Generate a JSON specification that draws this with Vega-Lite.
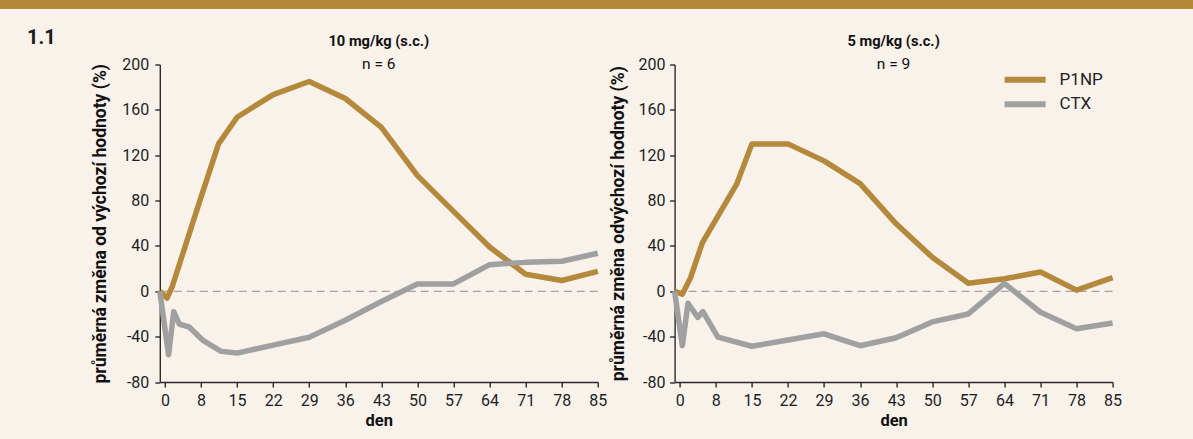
{
  "$schema": "https://vega.github.io/schema/vega-lite/v6.json",
  "background": "#f8f2eb",
  "padding": {"left": 0, "top": 0, "right": 0, "bottom": 12},
  "config": {
    "font": "Roboto",
    "view": {"stroke": null},
    "axis": {
      "grid": false,
      "domainColor": "#2b2b2b", "domainWidth": 1.4,
      "tickColor": "#2b2b2b", "tickWidth": 1.4, "tickSize": 5,
      "labelFont": "Roboto", "labelFontSize": 16, "labelColor": "#1e1e1e",
      "titleFont": "Roboto", "titleFontWeight": "bold", "titleColor": "#111111"
    }
  },
  "datasets": {
    "zero": [{"zmena": 0}],
    "dose10": [
      {"marker": "P1NP", "den": 0, "zmena": 0},
      {"marker": "P1NP", "den": 1.4, "zmena": -6},
      {"marker": "P1NP", "den": 2.4, "zmena": 4},
      {"marker": "P1NP", "den": 8, "zmena": 83},
      {"marker": "P1NP", "den": 11.4, "zmena": 130},
      {"marker": "P1NP", "den": 15, "zmena": 153.5},
      {"marker": "P1NP", "den": 22, "zmena": 173.5},
      {"marker": "P1NP", "den": 29, "zmena": 185},
      {"marker": "P1NP", "den": 36, "zmena": 170},
      {"marker": "P1NP", "den": 43, "zmena": 144.5},
      {"marker": "P1NP", "den": 50, "zmena": 102},
      {"marker": "P1NP", "den": 57, "zmena": 70.5},
      {"marker": "P1NP", "den": 64, "zmena": 39},
      {"marker": "P1NP", "den": 71, "zmena": 15},
      {"marker": "P1NP", "den": 78, "zmena": 9.5},
      {"marker": "P1NP", "den": 85, "zmena": 17.5},
      {"marker": "CTX", "den": 0, "zmena": 0},
      {"marker": "CTX", "den": 1.7, "zmena": -56},
      {"marker": "CTX", "den": 2.7, "zmena": -18},
      {"marker": "CTX", "den": 3.8, "zmena": -29},
      {"marker": "CTX", "den": 5.7, "zmena": -31.5},
      {"marker": "CTX", "den": 8.3, "zmena": -43},
      {"marker": "CTX", "den": 11.9, "zmena": -53},
      {"marker": "CTX", "den": 15, "zmena": -54.5},
      {"marker": "CTX", "den": 22, "zmena": -47.5},
      {"marker": "CTX", "den": 29, "zmena": -40.5},
      {"marker": "CTX", "den": 36, "zmena": -25.5},
      {"marker": "CTX", "den": 43, "zmena": -9},
      {"marker": "CTX", "den": 50, "zmena": 6.5},
      {"marker": "CTX", "den": 57, "zmena": 6.5},
      {"marker": "CTX", "den": 64, "zmena": 23.5},
      {"marker": "CTX", "den": 71, "zmena": 25.5},
      {"marker": "CTX", "den": 78, "zmena": 26.5},
      {"marker": "CTX", "den": 85, "zmena": 33.5}
    ],
    "dose5": [
      {"marker": "P1NP", "den": 0, "zmena": 0},
      {"marker": "P1NP", "den": 1.5, "zmena": -2.5},
      {"marker": "P1NP", "den": 3.1, "zmena": 12},
      {"marker": "P1NP", "den": 5.4, "zmena": 43},
      {"marker": "P1NP", "den": 12.1, "zmena": 95},
      {"marker": "P1NP", "den": 15, "zmena": 130},
      {"marker": "P1NP", "den": 22, "zmena": 130},
      {"marker": "P1NP", "den": 29, "zmena": 115},
      {"marker": "P1NP", "den": 36, "zmena": 95},
      {"marker": "P1NP", "den": 43, "zmena": 59.5},
      {"marker": "P1NP", "den": 50, "zmena": 30},
      {"marker": "P1NP", "den": 57, "zmena": 7},
      {"marker": "P1NP", "den": 64, "zmena": 11},
      {"marker": "P1NP", "den": 71, "zmena": 17},
      {"marker": "P1NP", "den": 78, "zmena": 1},
      {"marker": "P1NP", "den": 85, "zmena": 12},
      {"marker": "CTX", "den": 0, "zmena": 0},
      {"marker": "CTX", "den": 1.5, "zmena": -48},
      {"marker": "CTX", "den": 2.6, "zmena": -10.5},
      {"marker": "CTX", "den": 4.5, "zmena": -23},
      {"marker": "CTX", "den": 5.5, "zmena": -18},
      {"marker": "CTX", "den": 8.4, "zmena": -40.5},
      {"marker": "CTX", "den": 15, "zmena": -48.5},
      {"marker": "CTX", "den": 22, "zmena": -43},
      {"marker": "CTX", "den": 29, "zmena": -37.5},
      {"marker": "CTX", "den": 36, "zmena": -48},
      {"marker": "CTX", "den": 43, "zmena": -41},
      {"marker": "CTX", "den": 50, "zmena": -27},
      {"marker": "CTX", "den": 57, "zmena": -20},
      {"marker": "CTX", "den": 64, "zmena": 7},
      {"marker": "CTX", "den": 71, "zmena": -18.5},
      {"marker": "CTX", "den": 78, "zmena": -33},
      {"marker": "CTX", "den": 85, "zmena": -28}
    ]
  },
  "spacing": 18.5,
  "vconcat": [
    {
      "data": {"values": [{"pruh": "záhlaví"}]},
      "width": 1193,
      "height": 9,
      "view": {"fill": "#b5893c", "stroke": null},
      "mark": {"type": "rect", "color": "#b5893c"},
      "encoding": {}
    },
    {
      "spacing": 1.8,
      "resolve": {"scale": {"color": "independent"}, "legend": {"color": "independent"}},
      "hconcat": [
        {
          "data": {"values": [{"oznaceni": "1.1"}]},
          "width": 89,
          "height": 10,
          "title": {
            "text": "1.1", "anchor": "start", "frame": "group", "orient": "top",
            "offset": 16.5, "dx": 27,
            "font": "Roboto", "fontSize": 20, "fontWeight": "bold", "color": "#1a1a1a"
          },
          "mark": {"type": "rect", "opacity": 0},
          "encoding": {}
        },
        {
          "width": 438,
          "height": 317.5,
          "title": {
            "text": "10 mg/kg (s.c.)", "subtitle": "n = 6",
            "anchor": "middle", "frame": "group", "offset": -15.7,
            "font": "Roboto", "fontSize": 14.7, "fontWeight": "bold", "color": "#111111",
            "subtitleFont": "Roboto", "subtitleFontSize": 15.5, "subtitleFontWeight": "normal",
            "subtitleColor": "#111111", "subtitlePadding": 8
          },
          "layer": [
            {
              "data": {"name": "zero"},
              "mark": {"type": "rule", "color": "#a3a3a3", "strokeWidth": 1.2, "strokeDash": [8, 5]},
              "encoding": {
                "y": {"field": "zmena", "type": "quantitative",
                  "scale": {"domain": [-80, 200], "nice": false, "zero": false},
                  "axis": {"title": "průměrná změna od výchozí hodnoty (%)", "titleFontSize": 17.5, "values": [-80, -40, 0, 40, 80, 120, 160, 200], "labelExpr": "datum.value + ''", "labelPadding": 6, "titlePadding": 12.4}}
              }
            },
            {
              "data": {"name": "dose10"},
              "mark": {"type": "line", "strokeWidth": 5.5, "strokeJoin": "round"},
              "encoding": {
                "x": {"field": "den", "type": "quantitative",
                  "scale": {"domain": [0, 85], "nice": false, "zero": false},
                  "axis": {"title": "den", "titleFontSize": 16.5, "values": [1, 8, 15, 22, 29, 36, 43, 50, 57, 64, 71, 78, 85], "labelExpr": "datum.value == 1 ? '0' : datum.label", "labelFlush": false, "labelOverlap": false, "labelPadding": 5.3, "titlePadding": 4.5}},
                "y": {"field": "zmena", "type": "quantitative",
                  "scale": {"domain": [-80, 200], "nice": false, "zero": false},
                  "axis": {"title": "průměrná změna od výchozí hodnoty (%)", "titleFontSize": 17.5, "values": [-80, -40, 0, 40, 80, 120, 160, 200], "labelExpr": "datum.value + ''", "labelPadding": 6, "titlePadding": 12.4}},
                "color": {"field": "marker", "type": "nominal",
                  "scale": {"domain": ["P1NP", "CTX"], "range": ["#b5893c", "#a0a0a0"]},
                  "legend": null}
              }
            }
          ]
        },
        {
          "width": 438,
          "height": 317.5,
          "title": {
            "text": "5 mg/kg (s.c.)", "subtitle": "n = 9",
            "anchor": "middle", "frame": "group", "offset": -15.7,
            "font": "Roboto", "fontSize": 14.7, "fontWeight": "bold", "color": "#111111",
            "subtitleFont": "Roboto", "subtitleFontSize": 15.5, "subtitleFontWeight": "normal",
            "subtitleColor": "#111111", "subtitlePadding": 8
          },
          "layer": [
            {
              "data": {"name": "zero"},
              "mark": {"type": "rule", "color": "#a3a3a3", "strokeWidth": 1.2, "strokeDash": [8, 5]},
              "encoding": {
                "y": {"field": "zmena", "type": "quantitative",
                  "scale": {"domain": [-80, 200], "nice": false, "zero": false},
                  "axis": {"title": "průměrná změna odvýchozí hodnoty (%)", "titleFontSize": 17.5, "values": [-80, -40, 0, 40, 80, 120, 160, 200], "labelExpr": "datum.value + ''", "labelPadding": 4.6, "titlePadding": 10.7}}
              }
            },
            {
              "data": {"name": "dose5"},
              "mark": {"type": "line", "strokeWidth": 5.5, "strokeJoin": "round"},
              "encoding": {
                "x": {"field": "den", "type": "quantitative",
                  "scale": {"domain": [0, 85], "nice": false, "zero": false},
                  "axis": {"title": "den", "titleFontSize": 16.5, "values": [1, 8, 15, 22, 29, 36, 43, 50, 57, 64, 71, 78, 85], "labelExpr": "datum.value == 1 ? '0' : datum.label", "labelFlush": false, "labelOverlap": false, "labelPadding": 5.3, "titlePadding": 4.5}},
                "y": {"field": "zmena", "type": "quantitative",
                  "scale": {"domain": [-80, 200], "nice": false, "zero": false},
                  "axis": {"title": "průměrná změna odvýchozí hodnoty (%)", "titleFontSize": 17.5, "values": [-80, -40, 0, 40, 80, 120, 160, 200], "labelExpr": "datum.value + ''", "labelPadding": 4.6, "titlePadding": 10.7}},
                "color": {"field": "marker", "type": "nominal",
                  "scale": {"domain": ["P1NP", "CTX"], "range": ["#b5893c", "#a0a0a0"]},
                  "legend": {"orient": "none", "legendX": 327, "legendY": 6.8, "title": null,
                    "symbolType": "stroke", "symbolSize": 1681, "symbolStrokeWidth": 6, "clipHeight": 17,
                    "labelFont": "Roboto", "labelFontSize": 17, "labelColor": "#1e1e1e",
                    "labelOffset": 11, "rowPadding": 6.4, "padding": 0}}
              }
            }
          ]
        }
      ]
    }
  ]
}
